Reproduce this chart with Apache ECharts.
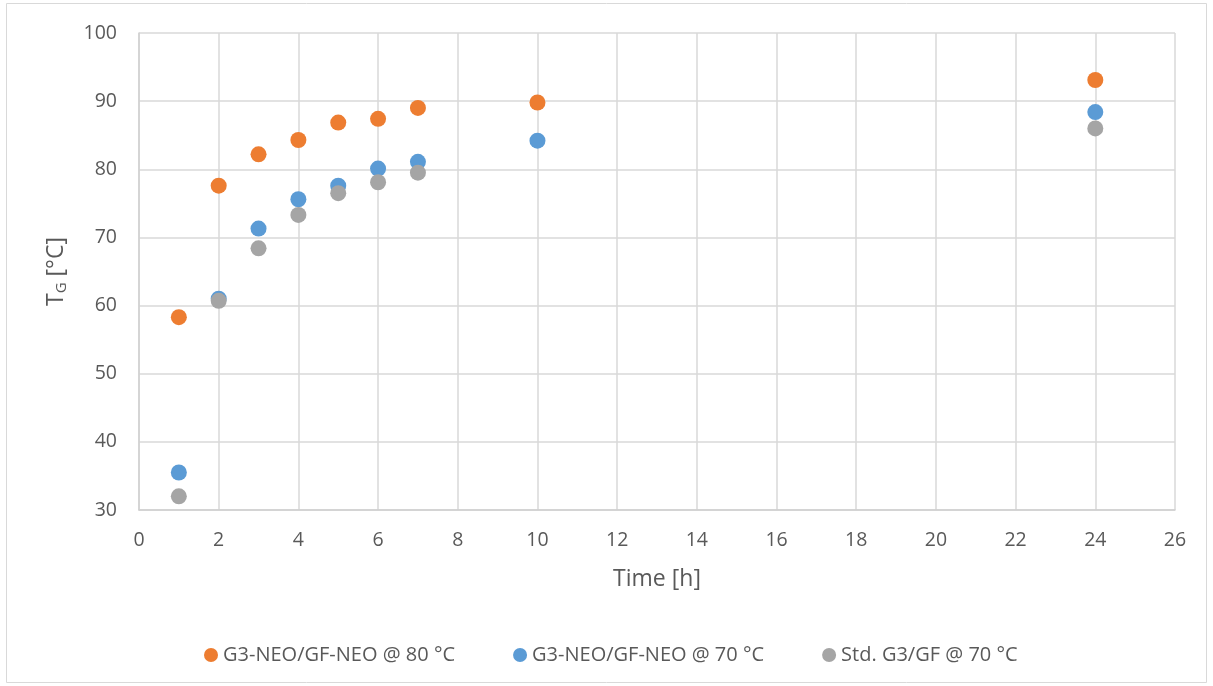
<!DOCTYPE html>
<html>
<head>
<meta charset="utf-8">
<script src="https://cdn.jsdelivr.net/npm/echarts@6/dist/echarts.min.js"></script>
<style>html,body{margin:0;padding:0;background:#fff}#c{width:1213px;height:686px}</style>
</head>
<body>
<div id="c"></div>
<script>
const timeH = [1, 2, 3, 4, 5, 6, 7, 10, 24];
const neo80 = [58.3, 77.6, 82.2, 84.3, 86.85, 87.4, 89.0, 89.8, 93.1];
const neo70 = [35.5, 61.0, 71.3, 75.6, 77.6, 80.1, 81.1, 84.2, 88.4];
const stdTime = [1, 2, 3, 4, 5, 6, 7, 24];
const std70 = [32.0, 60.7, 68.4, 73.3, 76.5, 78.1, 79.5, 86.0];
const seriesNames = ['G3-NEO/GF-NEO @ 80 °C', 'G3-NEO/GF-NEO @ 70 °C', 'Std. G3/GF @ 70 °C'];
const colors = ['#ED7D31', '#5B9BD5', '#A5A5A5'];

const pair = (xs, ys) => xs.map((x, i) => [x, ys[i]]);
const FONT = 'Open Sans';
const chart = echarts.init(document.getElementById('c'), null, {renderer: 'canvas'});
chart.setOption({
  animation: false,
  textStyle: {fontFamily: FONT},
  graphic: [{
    type: 'rect', shape: {x: 6.5, y: 3.5, width: 1200, height: 679},
    style: {fill: 'none', stroke: '#d9d9d9', lineWidth: 1}, silent: true, z: -1
  }],
  grid: {left: 139, right: 38, top: 33, bottom: 176},
  legend: {
    left: 199, top: 640,
    icon: 'circle', itemWidth: 14, itemHeight: 14, itemGap: 58,
    textStyle: {fontFamily: FONT, fontSize: 20, color: '#595959'},
    data: seriesNames
  },
  xAxis: {
    type: 'value', min: 0, max: 26, interval: 2,
    name: 'Time [h]', nameLocation: 'middle', nameGap: 58,
    nameTextStyle: {fontFamily: FONT, fontSize: 23, color: '#595959'},
    axisLine: {show: true, lineStyle: {color: '#d0d0d0', width: 1.5}},
    axisTick: {show: false},
    axisLabel: {fontFamily: FONT, fontSize: 19.5, color: '#595959', margin: 20},
    splitLine: {show: true, lineStyle: {color: '#d9d9d9', width: 1.5}}
  },
  yAxis: {
    type: 'value', min: 30, max: 100, interval: 10,
    name: '{a|T}{b|G}{a| [°C]}', nameLocation: 'middle', nameGap: 70, nameRotate: 90,
    nameTextStyle: {
      rich: {
        a: {fontFamily: FONT, fontSize: 23, color: '#595959'},
        b: {fontFamily: FONT, fontSize: 15, color: '#595959', verticalAlign: 'bottom', padding: [10, 0, 0, 0]}
      }
    },
    axisLine: {show: true, lineStyle: {color: '#d0d0d0', width: 1.5}},
    axisTick: {show: false},
    axisLabel: {fontFamily: FONT, fontSize: 19.5, color: '#595959', margin: 22},
    splitLine: {show: true, lineStyle: {color: '#d9d9d9', width: 1.5}}
  },
  series: [
    {name: seriesNames[0], type: 'scatter', symbolSize: 16, itemStyle: {color: colors[0], opacity: 1}, data: pair(timeH, neo80), z: 3},
    {name: seriesNames[1], type: 'scatter', symbolSize: 16, itemStyle: {color: colors[1], opacity: 1}, data: pair(timeH, neo70), z: 4},
    {name: seriesNames[2], type: 'scatter', symbolSize: 16, itemStyle: {color: colors[2], opacity: 1}, data: pair(stdTime, std70), z: 5}
  ]
});
</script>
</body>
</html>
